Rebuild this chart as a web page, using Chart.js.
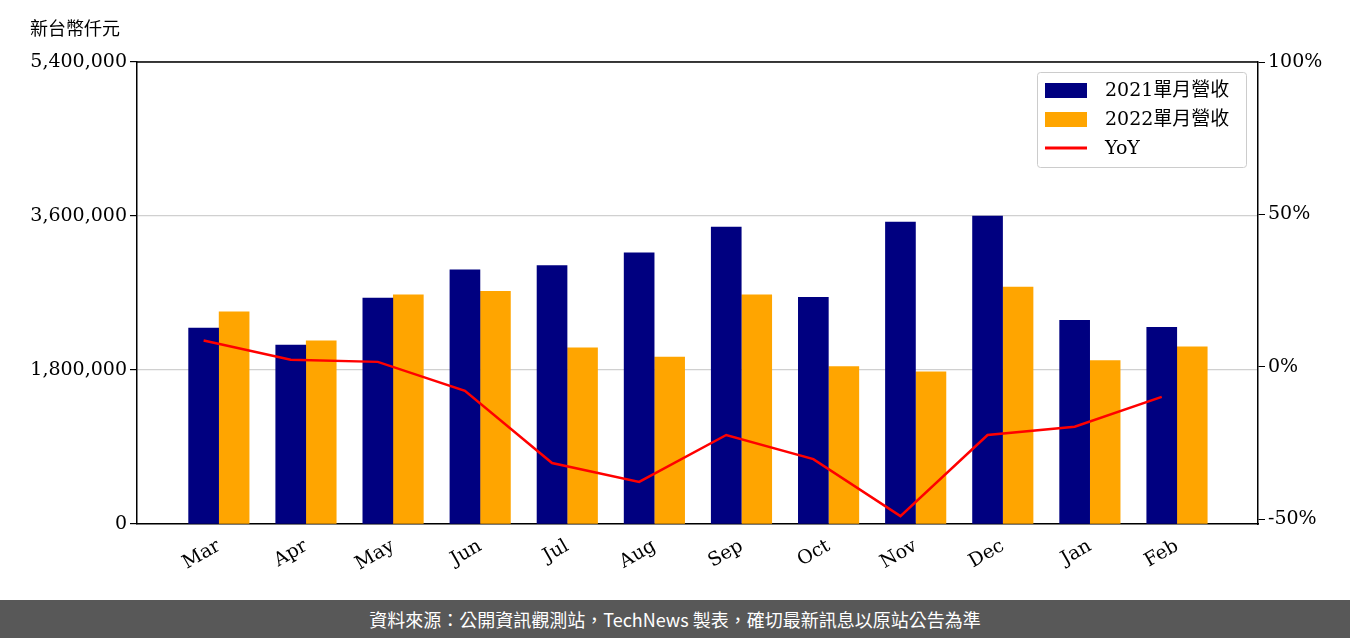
<!DOCTYPE html>
<html><head><meta charset="utf-8">
<script src="https://cdn.jsdelivr.net/npm/chart.js@4"></script>
<style>
body{margin:0;width:1350px;height:638px;background:#fff;overflow:hidden;position:relative}
#wrap{position:absolute;left:0;top:0;width:1350px;height:600px}
#foot{position:absolute;left:0;top:600px;width:1350px;height:38px;background:#585858;color:#fff;font:18px "Noto Sans CJK TC";text-align:center;line-height:38px}
#unit{position:absolute;left:30px;top:14px;font:18px "Noto Sans CJK TC";color:#000}
</style></head><body>
<div id="wrap"><canvas id="c" width="1350" height="600"></canvas></div>
<div id="unit">新台幣仟元</div>
<div id="foot">資料來源：公開資訊觀測站，TechNews 製表，確切最新訊息以原站公告為準</div>
<script>
const months=["Mar","Apr","May","Jun","Jul","Aug","Sep","Oct","Nov","Dec","Jan","Feb"];
const rev2021=[2290000,2090000,2640000,2970000,3020000,3170000,3470000,2650000,3530000,3600000,2380000,2300000];
const rev2022=[2480000,2140000,2680000,2720000,2060000,1950000,2680000,1840000,1780000,2770000,1910000,2070000];
const yoy=[8.6,2.3,1.6,-7.9,-31.6,-37.8,-22.4,-30.3,-49,-22.4,-19.7,-9.9];
const leftTicks=[0,1800000,3600000,5400000];
const rightTicks=[-50,0,50,100];
const off=0.175;
const serif='"DejaVu Serif","Liberation Serif",serif';
const legendPlugin={id:'lg',afterDraw(ch){const c=ch.ctx;c.save();
c.fillStyle='rgba(255,255,255,0.85)';c.strokeStyle='#ccc';c.lineWidth=1;
c.beginPath();c.roundRect(1037.5,72.5,209,95,3);c.fill();c.stroke();
const items=[['#000080','2021單月營收','bar'],['#FFA500','2022單月營收','bar'],['#FF0000','YoY','line']];
c.font='19px '+serif+',"Noto Sans CJK TC"';c.textBaseline='middle';
items.forEach((it,i)=>{const y=90+i*29;
if(it[2]=='bar'){c.fillStyle=it[0];c.fillRect(1045,y-7,42,15);}else{c.strokeStyle=it[0];c.lineWidth=3;c.beginPath();c.moveTo(1045,y);c.lineTo(1087,y);c.stroke();}
c.fillStyle='#000';c.fillText(it[1],1105,y+1);});c.restore();}};
new Chart(document.getElementById('c'),{
data:{datasets:[
{type:'line',label:'YoY',data:yoy.map((v,i)=>({x:i-off,y:v})),borderColor:'#FF0000',borderWidth:2.5,pointRadius:0,yAxisID:'y2',order:0},
{type:'bar',label:'2021',data:rev2021.map((v,i)=>({x:i-off,y:v})),backgroundColor:'#000080',barThickness:30,grouped:false,yAxisID:'y',order:1},
{type:'bar',label:'2022',data:rev2022.map((v,i)=>({x:i+off,y:v})),backgroundColor:'#FFA500',barThickness:30,grouped:false,yAxisID:'y',order:1}
]},
options:{responsive:false,animation:false,layout:{padding:{top:62,right:0,left:0,bottom:0}},
plugins:{legend:{display:false},tooltip:{enabled:false}},
scales:{
x:{type:'linear',offset:false,bounds:'data',min:-0.94,max:11.93,afterBuildTicks(a){a.ticks=months.map((m,i)=>({value:i}));},
 afterFit(a){a.height=76;},border:{color:'#000',width:1.5},grid:{display:false,drawTicks:true},
 ticks:{callback:(v)=>months[v]??'',minRotation:30,maxRotation:30,color:'#000',font:{family:serif,size:19}}},
y:{position:'left',min:0,max:5400000,afterBuildTicks(a){a.ticks=leftTicks.map(v=>({value:v}));},
 afterFit(a){a.width=137;},border:{color:'#000',width:1.5},grid:{color:'#d0d0d0',lineWidth:1.2,tickColor:'#000',tickLength:7},
 ticks:{color:'#000',font:{family:serif,size:19},callback:v=>v.toLocaleString('en-US')}},
y2:{position:'right',min:-51.6,max:100,afterBuildTicks(a){a.ticks=rightTicks.map(v=>({value:v}));},
 afterFit(a){a.width=92;},border:{color:'#000',width:1.5},grid:{drawOnChartArea:false,tickColor:'#000',tickLength:7},
 ticks:{color:'#000',font:{family:serif,size:19},callback:v=>v+'%'}}
}},
plugins:[legendPlugin,{id:'top',afterDraw(ch){const c=ch.ctx,a=ch.chartArea;c.save();c.strokeStyle='#000';c.lineWidth=1.5;c.beginPath();c.moveTo(a.left,a.top);c.lineTo(a.right,a.top);c.stroke();c.restore();}}]
});
</script></body></html>
